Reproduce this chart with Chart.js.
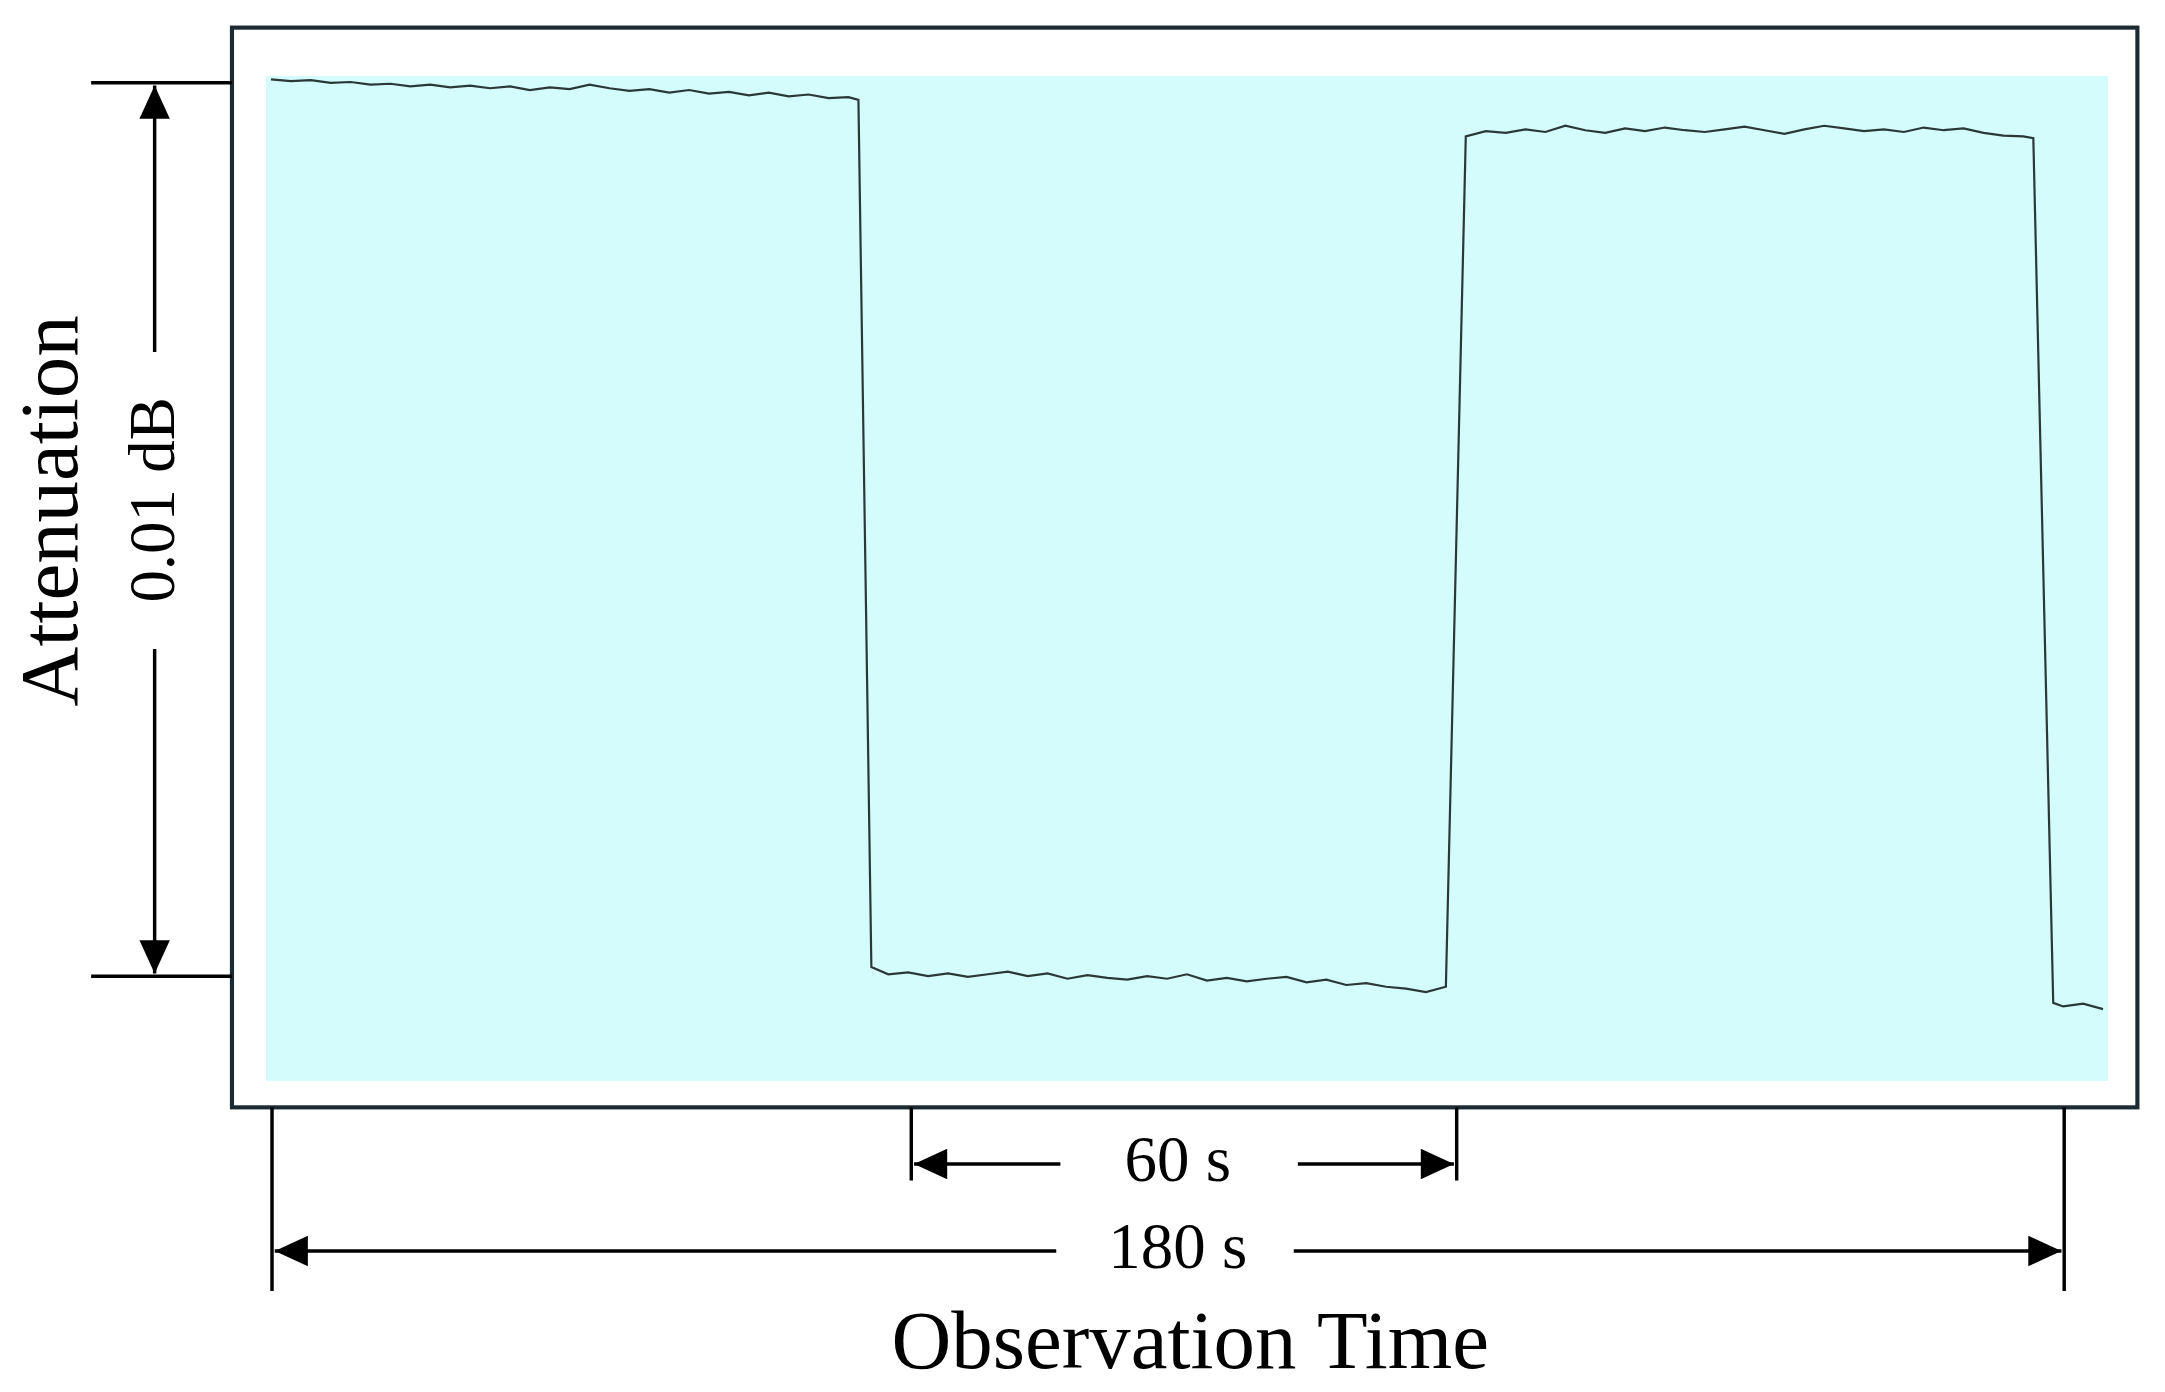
<!DOCTYPE html>
<html><head><meta charset="utf-8">
<script src="https://cdn.jsdelivr.net/npm/chart.js@4"></script>
<style>html,body{margin:0;padding:0;background:#fff;}#wrap{width:2165px;height:1392px;}</style>
</head><body><div id="wrap"><canvas id="c"></canvas></div>
<script>
// Observation time (s)
const times = [0,2,4,6,8,10,12,14,16,18,20,22,24,26,28,30,32,34,36,38,40,42,44,46,48,50,52,54,56,58,59,60.3,
62,64,66,68,70,72,74,76,78,80,82,84,86,88,90,92,94,96,98,100,102,104,106,108,110,112,114,116,118,120,
122,124,126,128,130,132,134,136,138,140,142,144,146,148,150,152,154,156,158,160,162,164,166,168,170,172,174,176,177,179,180,182,184];
// Attenuation relative (units of 0.001 dB)
const atten = [10.04,10.02,10.03,10.00,10.01,9.98,9.99,9.96,9.98,9.95,9.97,9.94,9.96,9.92,9.95,9.93,9.98,9.94,9.91,9.93,9.89,9.92,9.88,9.90,9.86,9.89,9.85,9.87,9.83,9.84,9.81,0.10,
0.02,0.04,0.00,0.03,-0.01,0.02,0.05,0.00,0.03,-0.03,0.01,-0.02,-0.04,0.00,-0.03,0.02,-0.05,-0.02,-0.06,-0.03,-0.01,-0.07,-0.04,-0.10,-0.08,-0.12,-0.14,-0.18,-0.12,9.40,
9.46,9.44,9.48,9.45,9.52,9.47,9.44,9.49,9.46,9.50,9.47,9.45,9.48,9.51,9.47,9.43,9.48,9.52,9.49,9.46,9.48,9.45,9.50,9.47,9.49,9.44,9.41,9.40,9.38,-0.30,-0.34,-0.31,-0.37];
const labels = {y:"Attenuation", x:"Observation Time", dB:"0.01 dB", s60:"60 s", s180:"180 s"};

const S = 2165/1568;
const FONT = '"Liberation Serif", "DejaVu Serif", serif';
function arrowHead(ctx,x,y,dir){
  ctx.beginPath();
  const L=24,W=11;
  if(dir==='up'){ctx.moveTo(x,y);ctx.lineTo(x-W,y+L);ctx.lineTo(x+W,y+L);}
  if(dir==='down'){ctx.moveTo(x,y);ctx.lineTo(x-W,y-L);ctx.lineTo(x+W,y-L);}
  if(dir==='left'){ctx.moveTo(x,y);ctx.lineTo(x+L,y-W);ctx.lineTo(x+L,y+W);}
  if(dir==='right'){ctx.moveTo(x,y);ctx.lineTo(x-L,y-W);ctx.lineTo(x-L,y+W);}
  ctx.closePath();ctx.fill();
}
function line(ctx,x1,y1,x2,y2){ctx.beginPath();ctx.moveTo(x1,y1);ctx.lineTo(x2,y2);ctx.stroke();}
const deco = {
  id:'deco',
  beforeDraw(chart){
    const {ctx,chartArea:a}=chart;
    ctx.save();ctx.fillStyle='#d4fcfd';ctx.fillRect(a.left,a.top,a.right-a.left,a.bottom-a.top);ctx.restore();
  },
  afterDraw(chart){
    const ctx=chart.ctx;
    ctx.save();ctx.scale(S,S);
    ctx.strokeStyle='#1c2b33';ctx.lineWidth=3;
    ctx.strokeRect(168,20,1380,782);
    ctx.strokeStyle='#000';ctx.fillStyle='#000';ctx.lineWidth=2.5;
    line(ctx,66,60,168,60);line(ctx,66,707,168,707);
    line(ctx,112,62,112,255);line(ctx,112,470,112,705);
    arrowHead(ctx,112,62,'up');arrowHead(ctx,112,705,'down');
    line(ctx,197,802,197,935);line(ctx,1495,802,1495,935);
    line(ctx,660,802,660,855);line(ctx,1055,802,1055,855);
    line(ctx,662,843,768,843);line(ctx,940,843,1053,843);
    arrowHead(ctx,662,843,'left');arrowHead(ctx,1053,843,'right');
    line(ctx,199,906,765,906);line(ctx,937,906,1493,906);
    arrowHead(ctx,199,906,'left');arrowHead(ctx,1493,906,'right');
    ctx.textAlign='center';ctx.textBaseline='middle';
    ctx.font='47px '+FONT;
    ctx.fillText(labels.s60,853,843);ctx.fillText(labels.s180,853,906);
    ctx.font='60px '+FONT;
    ctx.fillText(labels.x,862,975);
    ctx.save();ctx.translate(114,362);ctx.rotate(-Math.PI/2);ctx.font='47px '+FONT;ctx.fillText(labels.dB,0,0);ctx.restore();
    ctx.save();ctx.translate(40,370);ctx.rotate(-Math.PI/2);ctx.font='60px '+FONT;ctx.fillText(labels.y,0,0);ctx.restore();
    ctx.restore();
  }
};
new Chart(document.getElementById('c'),{
  type:'line',
  data:{datasets:[{data:times.map((t,i)=>({x:t,y:atten[i]})),borderColor:'#2b3838',borderWidth:2.2,pointRadius:0,tension:0}]},
  options:{responsive:true,maintainAspectRatio:false,animation:false,
    layout:{padding:{left:266,right:57,top:76,bottom:311}},
    plugins:{legend:{display:false},tooltip:{enabled:false}},
    scales:{x:{type:'linear',min:-0.5,max:184.5,display:false},y:{min:-1.175,max:10.077,display:false}}},
  plugins:[deco]
});
</script></body></html>
